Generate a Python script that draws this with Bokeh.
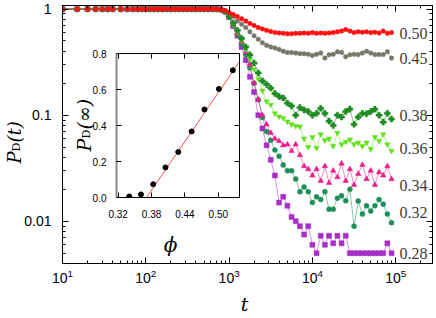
import math
from bokeh.plotting import figure
from bokeh.models import (Range1d, FixedTicker, LogAxis, LinearAxis,
                          CustomJSTickFormatter, PrintfTickFormatter, ColumnDataSource)
from bokeh.core.properties import value
from bokeh.embed import file_html
from bokeh.resources import INLINE

# ---------------- data ----------------
t = [10, 15, 20, 25, 30, 35, 40, 50, 60, 70, 80, 90,
     100, 112, 126, 141, 158, 178, 200, 224, 251, 282,
     316, 355, 398, 447, 501, 562, 631, 708, 794, 891,
     1000, 1122, 1259, 1413, 1585, 1778, 1995, 2239, 2512, 2818,
     3162, 3548, 3981, 4467, 5012, 5623, 6310, 7079, 7943, 8913,
     10000, 11220, 12589, 14125, 15849, 17783, 19953, 22387, 25119, 28184,
     31623, 35481, 39811, 44668, 50119, 56234, 63096, 70795, 79433, 89125]

p_050 = [1.0, 1.0, 1.0, 1.0, 1.0, 1.0, 1.0, 1.0, 1.0, 1.0,
         1.0, 1.0, 1.0, 1.0, 1.0, 1.0, 1.0, 1.0, 1.0, 1.0,
         1.0, 1.0, 1.0, 1.0, 1.0, 1.0, 1.0, 1.0, 1.0, 1.0, 0.99, 0.97,
         0.93, 0.89, 0.85, 0.81, 0.77, 0.73, 0.70, 0.67, 0.65, 0.63,
         0.615, 0.60, 0.595, 0.59, 0.585, 0.585, 0.59, 0.59, 0.595, 0.59,
         0.60, 0.59, 0.595, 0.59, 0.595, 0.60, 0.61, 0.62, 0.64, 0.62,
         0.60, 0.61, 0.605, 0.61, 0.60, 0.605, 0.595, 0.62, 0.59, 0.60]

p_045 = [1.0, 1.0, 1.0, 1.0, 1.0, 1.0, 1.0, 1.0, 1.0, 1.0,
         1.0, 1.0, 1.0, 1.0, 1.0, 1.0, 1.0, 1.0, 1.0, 1.0,
         1.0, 1.0, 1.0, 1.0, 1.0, 1.0, 1.0, 1.0, 1.0, 1.0, 0.99, 0.96,
         0.92, 0.85, 0.77, 0.72, 0.67, 0.61, 0.56, 0.52, 0.48, 0.455,
         0.44, 0.43, 0.415, 0.40, 0.39, 0.39, 0.385, 0.38, 0.38, 0.375,
         0.365, 0.375, 0.385, 0.345, 0.37, 0.375, 0.395, 0.39, 0.355, 0.37,
         0.375, 0.372, 0.385, 0.40, 0.385, 0.372, 0.372, 0.372, 0.395, 0.345]

p_038 = [1.0, 1.0, 1.0, 1.0, 1.0, 1.0, 1.0, 1.0, 1.0, 1.0,
         1.0, 1.0, 1.0, 1.0, 1.0, 1.0, 1.0, 1.0, 1.0, 1.0,
         1.0, 1.0, 1.0, 1.0, 1.0, 1.0, 1.0, 1.0, 1.0, 1.0, 0.99, 0.95,
         0.85, 0.74, 0.63, 0.53, 0.44, 0.37, 0.31, 0.25, 0.21, 0.195,
         0.18, 0.16, 0.15, 0.145, 0.13, 0.122, 0.10, 0.118, 0.112, 0.108,
         0.10, 0.104, 0.116, 0.104, 0.088, 0.08, 0.10, 0.096, 0.108, 0.114,
         0.082, 0.096, 0.104, 0.103, 0.108, 0.114, 0.10, 0.086, 0.104, 0.092]

p_036 = [1.0, 1.0, 1.0, 1.0, 1.0, 1.0, 1.0, 1.0, 1.0, 1.0,
         1.0, 1.0, 1.0, 1.0, 1.0, 1.0, 1.0, 1.0, 1.0, 1.0,
         1.0, 1.0, 1.0, 1.0, 1.0, 1.0, 1.0, 1.0, 1.0, 1.0, 0.99, 0.95,
         0.85, 0.72, 0.61, 0.51, 0.42, 0.34, 0.27, 0.22, 0.17, 0.135,
         0.125, 0.104, 0.097, 0.094, 0.087, 0.082, 0.079, 0.078, 0.06, 0.05,
         0.062, 0.049, 0.066, 0.058, 0.06, 0.051, 0.068, 0.053, 0.056, 0.059,
         0.053, 0.055, 0.051, 0.055, 0.048, 0.062, 0.057, 0.066, 0.053, 0.046]

p_034 = [1.0, 1.0, 1.0, 1.0, 1.0, 1.0, 1.0, 1.0, 1.0, 1.0,
         1.0, 1.0, 1.0, 1.0, 1.0, 1.0, 1.0, 1.0, 1.0, 1.0,
         1.0, 1.0, 1.0, 1.0, 1.0, 1.0, 1.0, 1.0, 1.0, 1.0, 0.99, 0.95,
         0.85, 0.71, 0.59, 0.49, 0.39, 0.30, 0.20, 0.14, 0.10, 0.082,
         0.068, 0.06, 0.057, 0.052, 0.053, 0.046, 0.053, 0.042, 0.033, 0.031,
         0.027, 0.031, 0.024, 0.033, 0.023, 0.030, 0.026, 0.035, 0.024, 0.031,
         0.022, 0.028, 0.034, 0.025, 0.030, 0.022, 0.029, 0.027, 0.033, 0.025]

p_032 = [1.0, 1.0, 1.0, 1.0, 1.0, 1.0, 1.0, 1.0, 1.0, 1.0,
         1.0, 1.0, 1.0, 1.0, 1.0, 1.0, 1.0, 1.0, 1.0, 1.0,
         1.0, 1.0, 1.0, 1.0, 1.0, 1.0, 1.0, 1.0, 1.0, 1.0, 0.99, 0.95,
         0.85, 0.70, 0.58, 0.47, 0.37, 0.28, 0.20, 0.14, 0.095, 0.07,
         0.058, 0.047, 0.041, 0.034, 0.030, 0.030, 0.025, 0.019, 0.021, 0.019,
         0.015, 0.017, 0.016, 0.019, 0.013, 0.013, 0.0165, 0.0174, 0.0156, 0.020,
         0.009, 0.0155, 0.0117, 0.014, 0.0125, 0.014, 0.016, 0.0145, 0.0117, 0.0097]

p_028 = [1.0, 1.0, 1.0, 1.0, 1.0, 1.0, 1.0, 1.0, 1.0, 1.0,
         1.0, 1.0, 1.0, 1.0, 1.0, 1.0, 1.0, 1.0, 1.0, 1.0,
         1.0, 1.0, 1.0, 1.0, 1.0, 1.0, 1.0, 1.0, 1.0, 1.0, 0.99, 0.95,
         0.84, 0.69, 0.56, 0.44, 0.33, 0.23, 0.165, 0.10, 0.075, 0.052,
         0.038, 0.027, 0.015, 0.017, 0.014, 0.011, 0.010, 0.009, 0.0075, 0.009,
         0.006, 0.005, 0.0073, 0.006, 0.0073, 0.0062, 0.0073, 0.0062, 0.0073, 0.005,
         0.005, 0.005, 0.005, 0.005, 0.005, 0.005, 0.005, 0.005, 0.0062, 0.005]

phi_labels = ["0.50", "0.45", "0.38", "0.36", "0.34", "0.32", "0.28"]
phi_label_y = [0.594, 0.339, 0.099, 0.049, 0.0215, 0.0122, 0.005]

# inset: P_D(infinity) vs phi
inset_phi = [0.340, 0.361, 0.383, 0.405, 0.428, 0.452, 0.475, 0.501, 0.526]
inset_p = [0.006, 0.017, 0.074, 0.167, 0.253, 0.367, 0.489, 0.603, 0.707]
fit_phi = [0.371, 0.538]
fit_p = [0.0, 0.755]

x_ticks_inset = [0.32, 0.38, 0.44, 0.50]
y_ticks_inset = [0.0, 0.2, 0.4, 0.6, 0.8]
y_ticks_main = [0.01, 0.1, 1]

# ---------------- layout constants (page pixels) ----------------
W, H = 436, 316
FL, FR, FT, FB = 62, 432, 5, 263          # main frame on the page
X0, X1 = 10, 10 ** (1 + (FR - FL) / 83.3)
Y0, Y1 = 0.004, 1.08


def px_to_t(px):
    a, b = math.log10(X0), math.log10(X1)
    return 10 ** (a + (px - FL) / (FR - FL) * (b - a))


p = figure(width=W, height=H, x_axis_type="log", y_axis_type="log",
           x_range=Range1d(X0, X1), y_range=Range1d(Y0, Y1),
           output_backend="svg", toolbar_location=None,
           min_border_left=FL, min_border_right=W - FR,
           min_border_top=FT, min_border_bottom=H - FB)
p.xgrid.visible = False
p.ygrid.visible = False
p.outline_line_color = "black"
p.outline_line_width = 1
p.background_fill_color = "white"
p.border_fill_color = "white"

minor_y = [m * 10 ** e for e in (-3, -2, -1, 0) for m in range(2, 10)]


def style_axis(ax, size, major_in, minor_in, standoff, show=True):
    ax.major_tick_in = major_in
    ax.major_tick_out = 0
    ax.minor_tick_in = minor_in
    ax.minor_tick_out = 0
    ax.axis_line_color = "black"
    ax.major_tick_line_color = "black"
    ax.minor_tick_line_color = "black"
    ax.major_label_text_font = "Liberation Sans"
    ax.major_label_text_color = "black"
    if show:
        ax.major_label_text_font_size = size
        ax.major_label_standoff = standoff
    else:
        ax.major_label_text_font_size = "0px"
        ax.major_label_standoff = 0
        ax.formatter = CustomJSTickFormatter(code="return '';")


style_axis(p.xaxis[0], "14px", 6, 3, 5)
p.yaxis[0].ticker = FixedTicker(ticks=y_ticks_main, minor_ticks=minor_y)
p.yaxis[0].formatter = CustomJSTickFormatter(code="return tick.toString();")
style_axis(p.yaxis[0], "14px", 6, 3, 11)

ax_top = LogAxis()
style_axis(ax_top, "14px", 6, 3, 0, show=False)
p.add_layout(ax_top, "above")
ax_right = LogAxis(ticker=FixedTicker(ticks=y_ticks_main, minor_ticks=minor_y))
style_axis(ax_right, "14px", 6, 3, 0, show=False)
p.add_layout(ax_right, "right")

series = [
    (p_028, "#a82ec8", "square", 5),
    (p_032, "#1f8f5a", "circle", 5),
    (p_034, "#ec1c8c", "triangle", 5.5),
    (p_036, "#62e21c", "inverted_triangle", 5.5),
    (p_038, "#1e8a22", "plus", 6),
    (p_045, "#76766a", "circle", 4.5),
    (p_050, "#ff1010", "circle", 4.5),
]
for vals, col, mk, sz in series:
    src = ColumnDataSource(data=dict(t=t, v=vals))
    p.line("t", "v", source=src, line_color=col, line_alpha=0.5, line_width=1)
    p.scatter("t", "v", source=src, marker=mk, size=sz, fill_color=col,
              line_color=col, line_width=0.5)

lab_src = ColumnDataSource(data=dict(x=[px_to_t(399)] * len(phi_labels),
                                     y=phi_label_y, text=phi_labels))
p.text("x", "y", text="text", source=lab_src, text_font=value("Liberation Serif"),
       text_font_size="16px", text_color="#3c3c3c", text_baseline="middle",
       text_align="left")

# ---------------- inset ----------------
IL, IR, IT, IB = 116, 239, 53, 197
CX0, CY0 = 80, 45
IW = IR + 3 - CX0
IH = 228 - CY0
XA, XB = 0.317, 0.538
YA, YB = 0.0, 0.8

ins = figure(width=IW, height=IH, x_range=Range1d(XA, XB), y_range=Range1d(YA, YB),
             output_backend="svg", toolbar_location=None,
             min_border_left=IL - CX0, min_border_right=3,
             min_border_top=IT - CY0, min_border_bottom=CY0 + IH - IB)
ins.styles = {"position": "absolute", "left": f"{CX0}px", "top": f"{CY0}px"}
ins.xgrid.visible = False
ins.ygrid.visible = False
ins.outline_line_color = None
ins.background_fill_color = "white"
ins.border_fill_alpha = 0

ins.xaxis[0].ticker = FixedTicker(ticks=x_ticks_inset, minor_ticks=[])
ins.xaxis[0].formatter = PrintfTickFormatter(format="%.2f")
style_axis(ins.xaxis[0], "10px", 5, 0, 12)
ins.yaxis[0].ticker = FixedTicker(ticks=y_ticks_inset, minor_ticks=[])
ins.yaxis[0].formatter = PrintfTickFormatter(format="%.1f")
style_axis(ins.yaxis[0], "10px", 5, 0, 10)
ins.yaxis[0].axis_line_color = "#8a8a8a"
ins.yaxis[0].axis_line_width = 2

it = LinearAxis(ticker=FixedTicker(ticks=x_ticks_inset, minor_ticks=[]))
style_axis(it, "10px", 5, 0, 0, show=False)
ins.add_layout(it, "above")
ir = LinearAxis(ticker=FixedTicker(ticks=y_ticks_inset, minor_ticks=[]))
style_axis(ir, "10px", 5, 0, 0, show=False)
ins.add_layout(ir, "right")

ins.line(fit_phi, fit_p, line_color="#ff5050", line_width=1)
ins.scatter(inset_phi, inset_p, marker="circle", size=5, fill_color="black",
            line_color="black")

# ---------------- transparent overlay for the axis titles ----------------
ov = figure(width=W, height=H, x_range=Range1d(0, W), y_range=Range1d(H, 0),
            output_backend="svg", toolbar_location=None,
            x_axis_location=None, y_axis_location=None,
            min_border_left=0, min_border_right=0, min_border_top=0, min_border_bottom=0)
ov.styles = {"position": "absolute", "left": "0px", "top": "0px"}
ov.xgrid.visible = False
ov.ygrid.visible = False
ov.outline_line_color = None
ov.background_fill_alpha = 0
ov.border_fill_alpha = 0

MATH = value("DejaVu Serif")


def vtext(x, y, s, size, style="italic"):
    ov.text(x=[x], y=[y], text=[s], angle=math.pi / 2, text_font=MATH,
            text_font_style=style, text_font_size=size, text_align="left",
            text_baseline="alphabetic", text_color="black")


# P_D(t)
vtext(14, 163, "P", "18px")
vtext(16, 151, "D", "11px", "normal")
vtext(14, 142, "(t)", "18px")
# P_D(inf)
vtext(83, 151, "P", "19px")
vtext(86, 138, "D", "11px", "normal")
vtext(83, 129, "(\u221e)", "19px")

ov.text(x=[244], y=[303], text=["t"], text_font=MATH, text_font_style="italic",
        text_font_size="19px", text_align="center", text_baseline="middle",
        text_color="black")
ov.text(x=[170], y=[244], text=["\u03d5"], text_font=MATH, text_font_style="italic",
        text_font_size="20px", text_align="center", text_baseline="middle",
        text_color="black")

open("out.html", "w").write(file_html([p, ins, ov], INLINE))
